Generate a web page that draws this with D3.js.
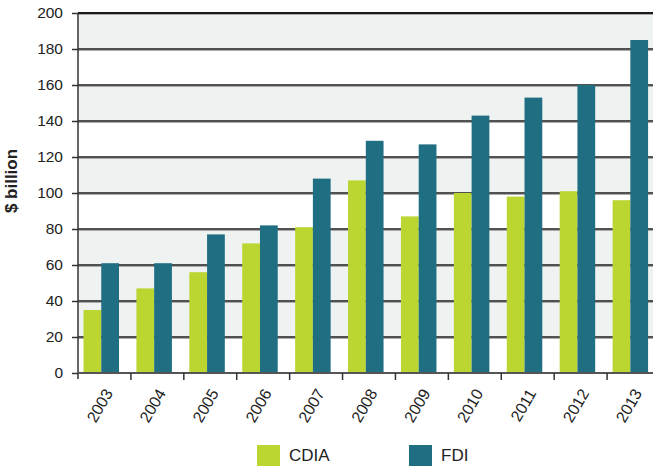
<!DOCTYPE html>
<html lang="en">
<head>
<meta charset="UTF-8">
<title>CDIA and FDI</title>
<style>
  body { margin: 0; background: #fff; }
  svg { display: block; }
  .tick text { font-family: "Liberation Sans", Arial, sans-serif; font-size: 15.5px; fill: #222; }
</style>
</head>
<body>
<svg id="chart" width="653" height="469"></svg>
<script src="https://cdn.jsdelivr.net/npm/d3@7"></script>
<script>
// data
var years = ["2003", "2004", "2005", "2006", "2007", "2008", "2009", "2010", "2011", "2012", "2013"];
var cdia = [35, 47, 56, 72, 81, 107, 87, 100, 98, 101, 96];
var fdi = [61, 61, 77, 82, 108, 129, 127, 143, 153, 160, 185];
var seriesNames = ["CDIA", "FDI"];
var yTicks = [0, 20, 40, 60, 80, 100, 120, 140, 160, 180, 200];
var shaded = [[20, 80], [100, 120], [140, 160], [180, 200]];

var colors = { CDIA: "#bbd531", FDI: "#206e82" };

var svg = d3.select("#chart");
var plotL = 78, plotR = 660, plotT = 13, plotB = 373;

var x = d3.scaleBand().domain(years).range([plotL, plotR]).padding(0);
var x1 = d3.scaleBand().domain(seriesNames).range([5.5, 41]).padding(0);
var y = d3.scaleLinear().domain([0, 200]).range([plotB, plotT]);

// background stripes
svg.append("g").selectAll("rect")
  .data(shaded)
  .enter().append("rect")
  .attr("x", plotL)
  .attr("width", plotR - plotL)
  .attr("y", function (d) { return y(d[1]); })
  .attr("height", function (d) { return y(d[0]) - y(d[1]); })
  .attr("fill", "#eef2f1");

// grid lines
var gridVals = yTicks.filter(function (d) { return d > 0; });
var grid = svg.append("g");
grid.selectAll("line.shadow")
  .data(gridVals)
  .enter().append("line")
  .attr("class", "shadow")
  .attr("x1", plotL).attr("x2", plotR)
  .attr("y1", function (d) { return y(d) + 1.5; })
  .attr("y2", function (d) { return y(d) + 1.5; })
  .attr("stroke", "#aaa").attr("stroke-width", 1);
grid.selectAll("line.main")
  .data(gridVals)
  .enter().append("line")
  .attr("class", "main")
  .attr("x1", plotL).attr("x2", plotR)
  .attr("y1", function (d) { return y(d); })
  .attr("y2", function (d) { return y(d); })
  .attr("stroke", "#1a1a1a")
  .attr("stroke-width", function (d) { return d === 200 ? 2 : 1.3; });

// bars
var rows = years.map(function (yr, i) {
  return { year: yr, values: [{ key: "CDIA", v: cdia[i] }, { key: "FDI", v: fdi[i] }] };
});
var groups = svg.append("g").selectAll("g")
  .data(rows)
  .enter().append("g")
  .attr("transform", function (d) { return "translate(" + x(d.year) + ",0)"; });
groups.selectAll("rect")
  .data(function (d) { return d.values; })
  .enter().append("rect")
  .attr("x", function (d) { return x1(d.key); })
  .attr("width", x1.bandwidth())
  .attr("y", function (d) { return y(d.v); })
  .attr("height", function (d) { return plotB - y(d.v); })
  .attr("fill", function (d) { return colors[d.key]; });

// y axis
var yAxis = svg.append("g")
  .attr("transform", "translate(" + plotL + ",0)")
  .call(d3.axisLeft(y).tickValues(yTicks).tickSize(6).tickPadding(9));
yAxis.select(".domain").attr("stroke", "#333").attr("stroke-width", 1.5).attr("d", "M0," + plotT + "V" + (plotB + 6));
yAxis.selectAll(".tick line").attr("stroke", "#333").attr("stroke-width", 1.5);

// x axis
var xAxis = svg.append("g")
  .attr("transform", "translate(0," + plotB + ")");
xAxis.append("line")
  .attr("x1", plotL).attr("x2", plotR)
  .attr("stroke", "#555").attr("stroke-width", 2);
xAxis.selectAll("line.tk")
  .data(years.slice(1))
  .enter().append("line")
  .attr("class", "tk")
  .attr("x1", function (d) { return x(d); })
  .attr("x2", function (d) { return x(d); })
  .attr("y1", 0).attr("y2", 7)
  .attr("stroke", "#333").attr("stroke-width", 1.5);
xAxis.selectAll("text")
  .data(years)
  .enter().append("text")
  .attr("transform", function (d) {
    return "translate(" + (x(d) + x.bandwidth() / 2 + 9) + ",20) rotate(-60)";
  })
  .attr("text-anchor", "end")
  .style("font-family", "'Liberation Sans', Arial, sans-serif")
  .style("font-size", "16px")
  .attr("fill", "#222")
  .text(function (d) { return d; });

// y title
svg.append("text")
  .attr("transform", "translate(17,181) rotate(-90)")
  .attr("text-anchor", "middle")
  .style("font-family", "'Liberation Sans', Arial, sans-serif")
  .style("font-size", "17px")
  .style("font-weight", "bold")
  .attr("fill", "#222")
  .text("$ billion");

// legend
var legendX = [257, 409];
var legend = svg.append("g").selectAll("g")
  .data(seriesNames)
  .enter().append("g")
  .attr("transform", function (d, i) { return "translate(" + legendX[i] + ",445)"; });
legend.append("rect")
  .attr("width", 23).attr("height", 21)
  .attr("fill", function (d) { return colors[d]; });
legend.append("text")
  .attr("x", 32).attr("y", 16)
  .style("font-family", "'Liberation Sans Narrow', 'Liberation Sans', sans-serif")
  .style("font-size", "17px")
  .attr("fill", "#222")
  .text(function (d) { return d; });
</script>
</body>
</html>
